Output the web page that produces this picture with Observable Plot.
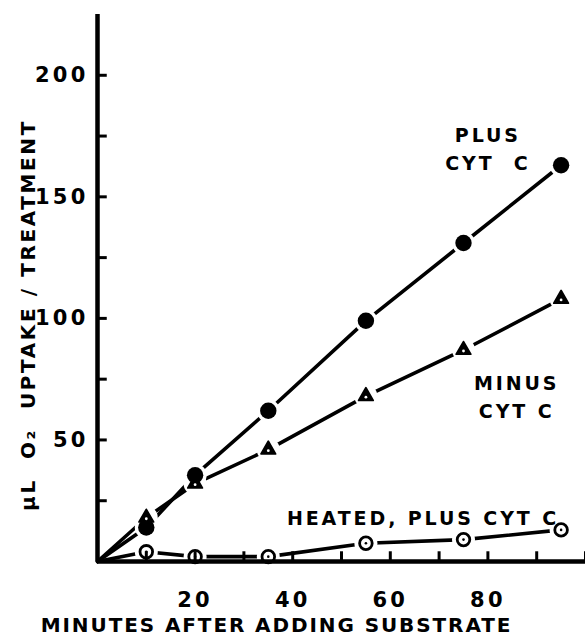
<!DOCTYPE html>
<html>
<head>
<meta charset="utf-8">
<script src="https://cdn.jsdelivr.net/npm/d3@7"></script>
<script src="https://cdn.jsdelivr.net/npm/@observablehq/plot@0.6"></script>
<style>
  html, body { margin: 0; padding: 0; background: #fff; }
  #chart svg { display: block; }
</style>
</head>
<body>
<div id="chart"></div>
<script>
// ---- data ----
const minutes = [10, 20, 35, 55, 75, 95];
const plusCytC = [14, 35.5, 62, 99, 131, 163];
const minusCytC = [18, 32, 46, 68, 87, 108];
const heatedPlusCytC = [4, 2, 2, 7.5, 9, 13];
const xTickLabels = [20, 40, 60, 80];
const yTickLabels = [50, 100, 150, 200];
const xTicks = [10, 20, 30, 40, 50, 60, 70, 80, 90, 100];
const yTicks = [25, 50, 75, 100, 125, 150, 175, 200];
const xLabel = "MINUTES AFTER ADDING SUBSTRATE";
const yLabel = "\u00B5L  O\u2082  UPTAKE / TREATMENT";
const annotations = [
  {text: "PLUS\nCYT  C", x: 80, y: 170.5},
  {text: "MINUS\nCYT C", x: 85.9, y: 68.5},
  {text: "HEATED, PLUS CYT C", x: 66.7, y: 18.6}
];

const series = [
  {name: "plus", values: plusCytC},
  {name: "minus", values: minusCytC},
  {name: "heated", values: heatedPlusCytC}
];
const points = series.flatMap(s => minutes.map((m, i) => ({series: s.name, x: m, y: s.values[i]})));
const lineRows = series.flatMap(s => [{series: s.name, x: 0, y: 0}, ...minutes.map((m, i) => ({series: s.name, x: m, y: s.values[i]}))]);
const bySeries = name => points.filter(d => d.series === name);

const W = 585, H = 636;
const mL = 97, mR = 0, mT = 14, mB = 75;
const FONT = "'DejaVu Sans', sans-serif";
// tick lengths expressed in data units of each scale (about 10px)
const yTickLen = 2;    // x-units
const xTickLen = 4;    // y-units

const chart = Plot.plot({
  width: W,
  height: H,
  marginLeft: mL,
  marginRight: mR,
  marginTop: mT,
  marginBottom: mB,
  style: {fontFamily: FONT, fontWeight: "bold", color: "#000", background: "#fff"},
  x: {domain: [0, 100], axis: null},
  y: {domain: [0, 225], axis: null},
  marks: [
    // connecting lines from origin
    Plot.line(lineRows, {x: "x", y: "y", z: "series", stroke: "#000", strokeWidth: 3.6}),
    // white halos to create the gaps around markers
    Plot.dot(points, {x: "x", y: "y", r: 11.5, fill: "#fff"}),
    // markers
    Plot.dot(bySeries("plus"), {x: "x", y: "y", r: 8.2, fill: "#000"}),
    Plot.dot(bySeries("minus"), {x: "x", y: "y", symbol: "triangle", r: 5.4, fill: "#000", stroke: "#000", strokeWidth: 1.8, strokeLinejoin: "round"}),
    Plot.dot(bySeries("minus"), {x: "x", y: "y", dy: 1, r: 1.4, fill: "#fff"}),
    Plot.dot(bySeries("heated"), {x: "x", y: "y", r: 6.3, fill: "#fff", stroke: "#000", strokeWidth: 2.8}),
    Plot.dot(bySeries("heated"), {x: "x", y: "y", r: 1.3, fill: "#000"}),
    // axis lines
    Plot.ruleY([0], {stroke: "#000", strokeWidth: 4.5}),
    Plot.ruleX([0], {stroke: "#000", strokeWidth: 4.5}),
    // inward tick marks
    Plot.ruleY(yTicks, {y: d => d, x1: 0, x2: yTickLen, stroke: "#000", strokeWidth: 3}),
    Plot.ruleX(xTicks, {x: d => d, y1: 0, y2: xTickLen, stroke: "#000", strokeWidth: 3}),
    // tick labels
    Plot.axisY(yTickLabels, {label: null, tickSize: 0, tickPadding: 9, fontSize: 21, fontWeight: "bold"}),
    Plot.axisX(xTickLabels, {label: null, tickSize: 0, tickPadding: 31, fontSize: 21, fontWeight: "bold"}),
    // axis titles
    Plot.text([xLabel], {frameAnchor: "bottom", textAnchor: "middle", dx: -65, dy: 64, fontSize: 20, fontWeight: "bold", lineAnchor: "middle"}),
    Plot.text([yLabel], {frameAnchor: "left", textAnchor: "middle", rotate: -90, dx: -69, dy: 27, fontSize: 20, fontWeight: "bold", lineAnchor: "middle"}),
    // annotations
    Plot.text(annotations, {x: "x", y: "y", text: "text", fontSize: 19, fontWeight: "bold", lineHeight: 1.45, lineAnchor: "middle"})
  ]
});

document.getElementById("chart").appendChild(chart);

// letter spacing to mimic the wide lettering of the original
d3.select(chart).selectAll("text").each(function() {
  const t = this.textContent;
  let ls = null;
  if (t === xLabel) ls = 1.9;
  else if (t === yLabel) ls = 2.6;
  else if (/^\d+$/.test(t)) ls = 3.2;
  else if (/HEATED|PLUS|MINUS|CYT/.test(t)) ls = 2.9;
  if (ls != null) {
    this.setAttribute("letter-spacing", ls);
    this.style.letterSpacing = ls + "px";
  }
});
</script>
</body>
</html>
